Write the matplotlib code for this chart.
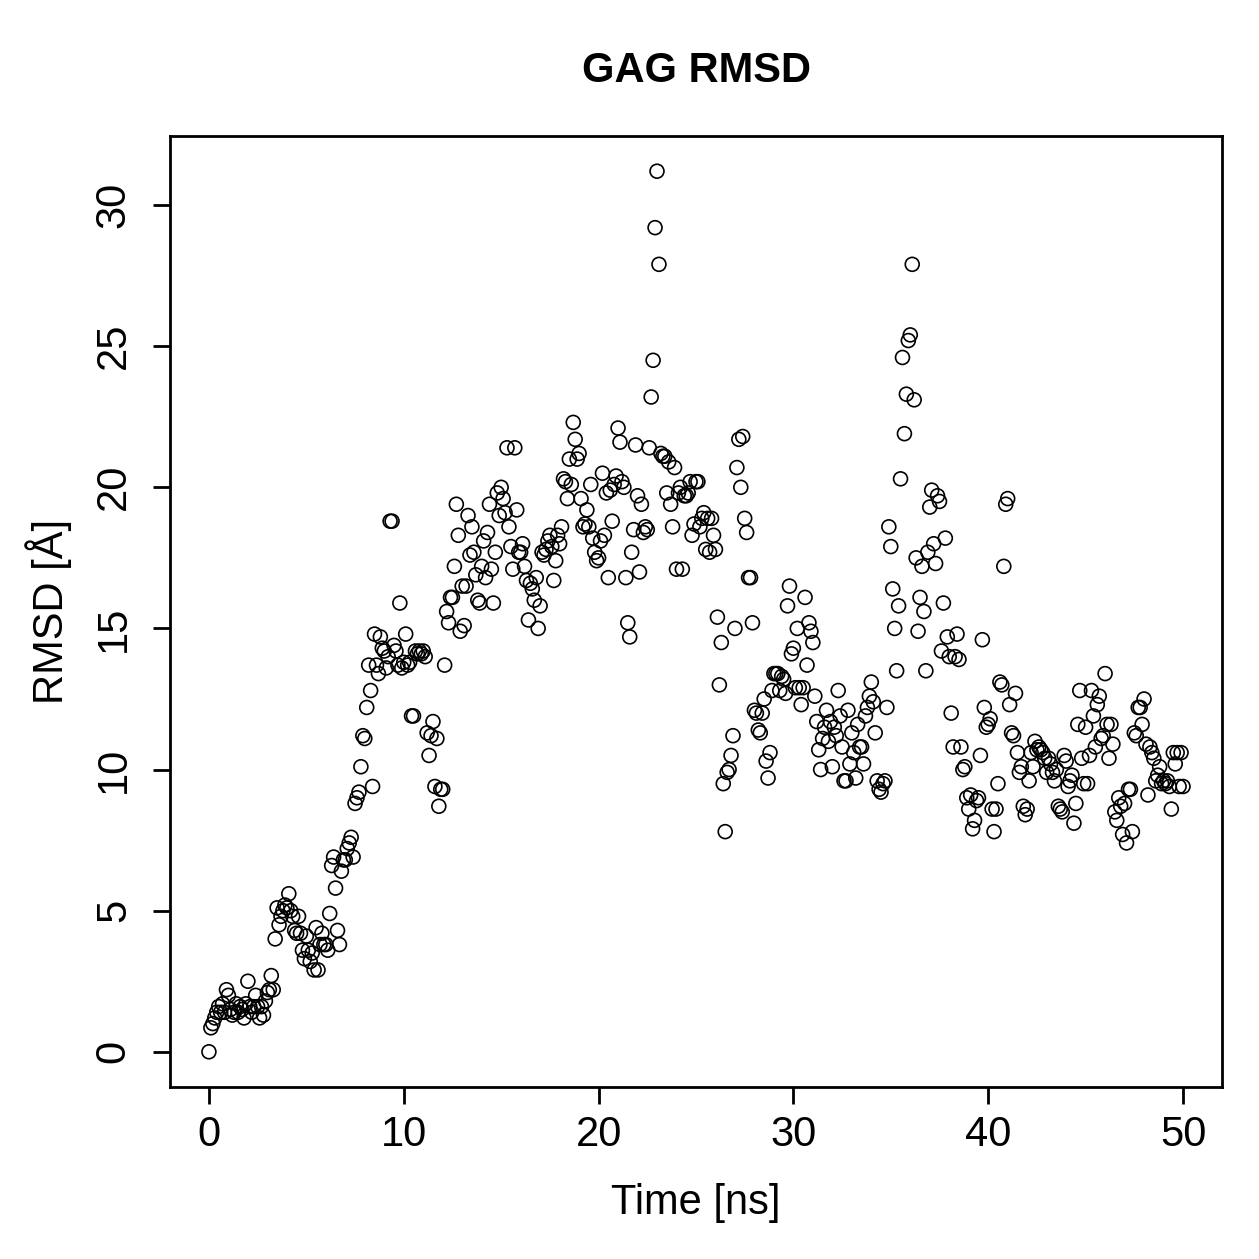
"""
GAG RMSD scatter, R base-graphics look
"""

import numpy as np
import matplotlib
matplotlib.use("Agg")
import matplotlib.pyplot as plt

# -----------------------------
# DATA (one row per ns)
# -----------------------------

TIME_STEP = 0.1  # ns

rmsd_00 = [0.0]
rmsd_01 = [0.85, 1.0, 1.2, 1.4, 1.6, 1.4, 1.7, 1.4, 2.2, 2.0]
rmsd_02 = [1.5, 1.3, 1.4, 1.7, 1.4, 1.6, 1.5, 1.2, 1.7, 2.5]
rmsd_03 = [1.6, 1.4, 1.6, 2.0, 1.6, 1.2, 1.6, 1.3, 1.8, 2.1]
rmsd_04 = [2.2, 2.7, 2.2, 4.0, 5.1, 4.5, 4.8, 5.0, 5.2, 5.1]
rmsd_05 = [5.6, 5.0, 4.8, 4.3, 4.2, 4.8, 4.2, 3.6, 3.3, 4.1]
rmsd_06 = [3.6, 3.2, 3.5, 2.9, 4.4, 2.9, 3.8, 4.2, 3.8, 3.8]
rmsd_07 = [3.6, 4.9, 6.6, 6.9, 5.8, 4.3, 3.8, 6.4, 6.8, 6.8]
rmsd_08 = [7.2, 7.4, 7.6, 6.9, 8.8, 9.0, 9.2, 10.1, 11.2, 11.1]
rmsd_09 = [12.2, 13.7, 12.8, 9.4, 14.8, 13.7, 13.4, 14.7, 14.3, 14.2]
rmsd_10 = [13.6, 14.0, 18.8, 18.8, 14.4, 14.2, 13.7, 15.9, 13.6, 13.8]
rmsd_11 = [14.8, 13.7, 13.8, 11.9, 11.9, 14.2, 14.1, 14.2, 14.1, 14.2]
rmsd_12 = [14.0, 11.3, 10.5, 11.2, 11.7, 9.4, 11.1, 8.7, 9.3, 9.3]
rmsd_13 = [13.7, 15.6, 15.2, 16.1, 16.1, 17.2, 19.4, 18.3, 14.9, 16.5]
rmsd_14 = [15.1, 16.5, 19.0, 17.6, 18.6, 17.7, 16.9, 16.0, 15.9, 17.2]
rmsd_15 = [18.1, 16.8, 18.4, 19.4, 17.1, 15.9, 17.7, 19.8, 19.0, 20.0]
rmsd_16 = [19.6, 19.1, 21.4, 18.6, 17.9, 17.1, 21.4, 19.2, 17.7, 17.7]
rmsd_17 = [18.0, 17.2, 16.7, 15.3, 16.6, 16.4, 16.0, 16.8, 15.0, 15.8]
rmsd_18 = [17.7, 17.6, 17.8, 18.1, 18.3, 17.9, 16.7, 17.4, 18.3, 18.0]
rmsd_19 = [18.6, 20.3, 20.2, 19.6, 21.0, 20.1, 22.3, 21.7, 21.0, 21.2]
rmsd_20 = [19.6, 18.6, 18.7, 19.2, 18.6, 20.1, 18.2, 17.7, 17.4, 17.5]
rmsd_21 = [18.1, 20.5, 18.3, 19.8, 16.8, 19.9, 18.8, 20.1, 20.4, 22.1]
rmsd_22 = [21.6, 20.2, 20.0, 16.8, 15.2, 14.7, 17.7, 18.5, 21.5, 19.7]
rmsd_23 = [17.0, 19.4, 18.4, 18.6, 18.5, 21.4, 23.2, 24.5, 29.2, 31.2]
rmsd_24 = [27.9, 21.2, 21.1, 21.1, 19.8, 20.9, 19.4, 18.6, 20.7, 17.1]
rmsd_25 = [19.8, 20.0, 17.1, 19.7, 19.7, 19.8, 20.2, 18.3, 18.7, 20.2]
rmsd_26 = [20.2, 18.6, 18.9, 19.1, 17.8, 18.9, 17.7, 18.9, 18.3, 17.8]
rmsd_27 = [15.4, 13.0, 14.5, 9.5, 7.8, 9.9, 10.0, 10.5, 11.2, 15.0]
rmsd_28 = [20.7, 21.7, 20.0, 21.8, 18.9, 18.4, 16.8, 16.8, 15.2, 12.1]
rmsd_29 = [12.0, 11.4, 11.3, 12.0, 12.5, 10.3, 9.7, 10.6, 12.8, 13.4]
rmsd_30 = [13.4, 13.4, 12.8, 13.3, 13.2, 12.7, 15.8, 16.5, 14.1, 14.3]
rmsd_31 = [12.9, 15.0, 12.9, 12.3, 12.9, 16.1, 13.7, 15.2, 14.9, 14.5]
rmsd_32 = [12.6, 11.7, 10.7, 10.0, 11.1, 11.5, 12.1, 11.0, 11.7, 10.1]
rmsd_33 = [11.5, 11.2, 12.8, 11.9, 10.8, 9.6, 9.6, 12.1, 10.2, 11.3]
rmsd_34 = [10.6, 9.7, 11.6, 10.8, 10.8, 10.2, 11.9, 12.2, 12.6, 13.1]
rmsd_35 = [12.4, 11.3, 9.6, 9.3, 9.2, 9.5, 9.6, 12.2, 18.6, 17.9]
rmsd_36 = [16.4, 15.0, 13.5, 15.8, 20.3, 24.6, 21.9, 23.3, 25.2, 25.4]
rmsd_37 = [27.9, 23.1, 17.5, 14.9, 16.1, 17.2, 15.6, 13.5, 17.7, 19.3]
rmsd_38 = [19.9, 18.0, 17.3, 19.7, 19.5, 14.2, 15.9, 18.2, 14.7, 14.0]
rmsd_39 = [12.0, 10.8, 14.0, 14.8, 13.9, 10.8, 10.0, 10.1, 9.0, 8.6]
rmsd_40 = [9.1, 7.9, 8.2, 8.9, 9.0, 10.5, 14.6, 12.2, 11.5, 11.6]
rmsd_41 = [11.8, 8.6, 7.8, 8.6, 9.5, 13.1, 13.0, 17.2, 19.4, 19.6]
rmsd_42 = [12.3, 11.3, 11.2, 12.7, 10.6, 9.9, 10.1, 8.7, 8.4, 8.6]
rmsd_43 = [9.6, 10.6, 10.1, 11.0, 10.7, 10.8, 10.7, 10.6, 10.4, 9.9]
rmsd_44 = [10.4, 10.2, 9.9, 9.6, 10.0, 8.7, 8.6, 8.5, 10.5, 10.3]
rmsd_45 = [9.4, 9.6, 9.8, 8.1, 8.8, 11.6, 12.8, 10.4, 9.5, 11.5]
rmsd_46 = [9.5, 10.5, 12.8, 11.9, 10.8, 12.3, 12.6, 11.1, 11.2, 13.4]
rmsd_47 = [11.6, 10.4, 11.6, 10.9, 8.5, 8.2, 9.0, 8.7, 7.7, 8.8]
rmsd_48 = [7.4, 9.3, 9.3, 7.8, 11.3, 11.2, 12.2, 12.2, 11.6, 12.5]
rmsd_49 = [10.9, 9.1, 10.8, 10.6, 10.4, 9.6, 9.8, 10.1, 9.5, 9.6]
rmsd_50 = [9.5, 9.6, 9.4, 8.6, 10.6, 10.2, 10.6, 9.4, 10.6, 9.4]

x_ticks = [0, 10, 20, 30, 40, 50]
y_ticks = [0, 5, 10, 15, 20, 25, 30]

TITLE = "GAG RMSD"
XLABEL = "Time [ns]"
YLABEL = "RMSD [Å]"


def collect():
    rows = [rmsd_00, rmsd_01, rmsd_02, rmsd_03, rmsd_04, rmsd_05, rmsd_06,
            rmsd_07, rmsd_08, rmsd_09, rmsd_10, rmsd_11, rmsd_12, rmsd_13,
            rmsd_14, rmsd_15, rmsd_16, rmsd_17, rmsd_18, rmsd_19, rmsd_20,
            rmsd_21, rmsd_22, rmsd_23, rmsd_24, rmsd_25, rmsd_26, rmsd_27,
            rmsd_28, rmsd_29, rmsd_30, rmsd_31, rmsd_32, rmsd_33, rmsd_34,
            rmsd_35, rmsd_36, rmsd_37, rmsd_38, rmsd_39, rmsd_40, rmsd_41,
            rmsd_42, rmsd_43, rmsd_44, rmsd_45, rmsd_46, rmsd_47, rmsd_48,
            rmsd_49, rmsd_50]
    rmsd = np.concatenate([np.asarray(r, dtype=float) for r in rows])
    time = np.arange(len(rmsd)) * TIME_STEP
    return time, rmsd


# -----------------------------
# PLOTTING
# -----------------------------

def main():
    plt.rcParams["font.family"] = ["Liberation Sans", "DejaVu Sans"]

    time, rmsd = collect()

    fig = plt.figure(figsize=(12.59, 12.59), dpi=100)
    ax = fig.add_axes([0.135, 0.1366, 0.8356, 0.7554])

    ax.scatter(time, rmsd, s=100, facecolors="none", edgecolors="black",
               linewidths=1.2)

    # R style 4% axis extension
    xr = time.max() - time.min()
    yr = rmsd.max() - rmsd.min()
    ax.set_xlim(time.min() - 0.04 * xr, time.max() + 0.04 * xr)
    ax.set_ylim(rmsd.min() - 0.04 * yr, rmsd.max() + 0.04 * yr)

    ax.set_xticks(x_ticks)
    ax.set_yticks(y_ticks)
    ax.set_yticklabels([str(v) for v in y_ticks], rotation=90, va="center")

    for s in ax.spines.values():
        s.set_linewidth(2.0)

    ax.tick_params(axis="both", direction="out", length=12, width=2.0,
                   labelsize=30, top=False, right=False)
    ax.tick_params(axis="x", pad=8)
    ax.tick_params(axis="y", pad=14)

    ax.set_xlabel(XLABEL, fontsize=30, labelpad=20)
    ax.set_ylabel(YLABEL, fontsize=30, labelpad=16)
    fig.text(0.553, 0.944, TITLE, fontsize=30, fontweight="bold",
             ha="center", va="center")

    fig.savefig("out.png", dpi=100)
    plt.close(fig)


if __name__ == "__main__":
    main()
